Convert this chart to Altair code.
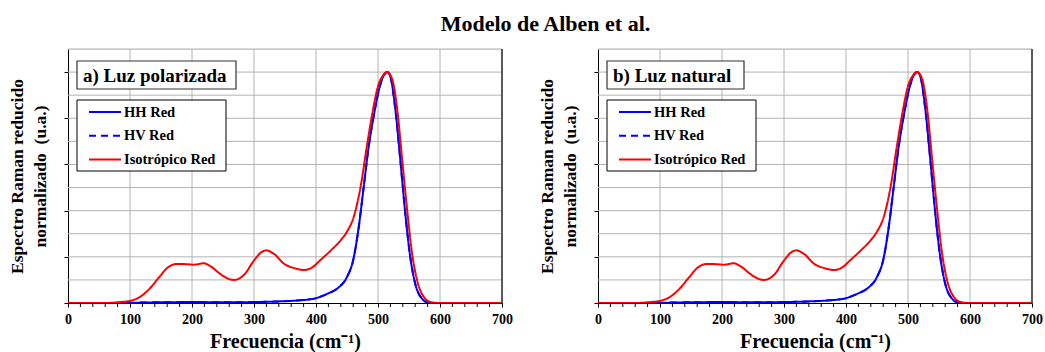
import altair as alt
import pandas as pd

# Reduced Raman spectra (normalised), Alben et al. model
series_names = ["HH Red", "HV Red", "Isotrópico Red"]
series_colors = ["#0000ff", "#0000ff", "#ff0000"]
series_dash = [[1, 0], [7, 5], [1, 0]]

# HH / HV reduced spectrum (both polarisations coincide)
hh_freq = [0, 60, 100, 120, 150, 200, 250, 300, 340, 370, 397, 419, 435,
           450, 460, 469, 477, 485, 493, 503, 509, 515, 520, 528, 536, 544,
           552, 560, 571, 582, 600, 700]
hh_val = [0.0, 0.0, 0.0, 0.002, 0.003, 0.004, 0.003, 0.004, 0.007, 0.011,
          0.019, 0.041, 0.064, 0.113, 0.186, 0.330, 0.504, 0.678, 0.809,
          0.939, 0.985, 1.0, 0.980, 0.838, 0.620, 0.388, 0.200, 0.084,
          0.019, 0.001, 0.0, 0.0]
hv_freq = list(hh_freq)
hv_val = list(hh_val)

# Isotropic reduced spectrum
iso_freq = [0, 60, 84, 100, 116, 132, 148, 162, 176, 192, 203, 219, 230,
            246, 257, 268, 284, 300, 311, 320, 332, 349, 365, 381, 392, 408,
            424, 440, 450, 461, 472, 482, 492, 500, 508, 515, 523, 531, 539,
            547, 555, 563, 574, 585, 600, 700]
iso_val = [0.0, 0.0, 0.004, 0.009, 0.026, 0.063, 0.115, 0.156, 0.169, 0.168,
           0.166, 0.172, 0.159, 0.125, 0.107, 0.100, 0.122, 0.184, 0.218,
           0.228, 0.213, 0.169, 0.151, 0.143, 0.151, 0.188, 0.228, 0.272,
           0.309, 0.374, 0.504, 0.678, 0.838, 0.939, 0.985, 1.0, 0.968,
           0.838, 0.620, 0.403, 0.214, 0.099, 0.026, 0.004, 0.0, 0.0]

panel_labels = ["a) Luz polarizada", "b) Luz natural"]
panel_box_widths = [159, 137]

x_major = list(range(0, 701, 100))
x_minor = [v for v in range(20, 700, 20) if v % 100 != 0]
y_ticks = [round(i * 0.1, 1) for i in range(12)]

FONT = "Liberation Serif"
GRID = "#b4b4b4"

frames = []
for name, fx, fy in zip(series_names, [hh_freq, hv_freq, iso_freq],
                        [hh_val, hv_val, iso_val]):
    frames.append(pd.DataFrame({"freq": fx, "valor": fy, "serie": name}))
spectra = pd.concat(frames, ignore_index=True)

x_scale = alt.Scale(domain=[0, 700], nice=False)
y_scale = alt.Scale(domain=[0, 1.1], nice=False)

PLOT_W, PLOT_H = 434, 254


def panel(label, box_w):
    x_enc = alt.X(
        "freq:Q", scale=x_scale,
        axis=alt.Axis(
            values=x_major, title="Frecuencia (cm⁻¹)", grid=False,
            labelOverlap=False, labelFlush=False,
            tickColor="black", tickSize=4, domainColor="black",
            labelFont=FONT, labelFontWeight="bold", labelFontSize=14,
            labelColor="black", labelPadding=5,
            titleFont=FONT, titleFontWeight="bold", titleFontSize=20,
            titleColor="black", titlePadding=5,
        ),
    )
    y_enc = alt.Y(
        "valor:Q", scale=y_scale,
        axis=alt.Axis(
            values=y_ticks, labels=False, grid=False,
            title=["Espectro Raman reducido", "normalizado\u00a0\u00a0(u.a.)"],
            tickColor="black", tickSize=4, domainColor="black",
            titleFont=FONT, titleFontWeight="bold", titleFontSize=17.5,
            titleColor="black", titlePadding=14, titleLineHeight=23,
        ),
    )
    # grid lines drawn as rules from the tick lists
    vgrid = alt.Chart(pd.DataFrame({"freq": x_major[1:]})).mark_rule(
        color=GRID, strokeWidth=1
    ).encode(x=alt.X("freq:Q", scale=x_scale))
    hgrid = alt.Chart(pd.DataFrame({"valor": y_ticks[1:]})).mark_rule(
        color=GRID, strokeWidth=1
    ).encode(y=alt.Y("valor:Q", scale=y_scale))
    lines = alt.Chart(spectra).mark_line(
        strokeWidth=2, interpolate="monotone", clip=True
    ).encode(
        x=x_enc,
        y=y_enc,
        color=alt.Color("serie:N", scale=alt.Scale(domain=series_names, range=series_colors), legend=None),
        strokeDash=alt.StrokeDash("serie:N", scale=alt.Scale(domain=series_names, range=series_dash), legend=None),
    )
    # minor ticks every 20 cm-1 below the frequency axis
    minor = alt.Chart(pd.DataFrame({"freq": x_minor})).mark_rule(
        color="black", strokeWidth=1
    ).encode(x=alt.X("freq:Q", scale=x_scale), y=alt.value(PLOT_H), y2=alt.value(PLOT_H + 4))
    edge = alt.Chart(pd.DataFrame({"freq": [700]})).mark_rule(
        color="#5a5a5a", strokeWidth=2
    ).encode(x=alt.X("freq:Q", scale=x_scale))

    tag = pd.DataFrame({"t": [label]})
    box = alt.Chart(tag).mark_rect(
        fill="white", stroke="#333333", strokeWidth=1.2
    ).encode(x=alt.value(9), x2=alt.value(9 + box_w),
             y=alt.value(12), y2=alt.value(40))
    txt = alt.Chart(tag).mark_text(
        align="left", baseline="middle", font=FONT, fontWeight="bold",
        fontSize=19, color="black"
    ).encode(x=alt.value(15), y=alt.value(26.5), text="t:N")

    # legend box with one line sample and label per series
    leg = [alt.Chart(tag).mark_rect(
        fill="white", stroke="black", strokeWidth=1
    ).encode(x=alt.value(9), x2=alt.value(158), y=alt.value(51), y2=alt.value(122))]
    for i, (name, col, dash) in enumerate(zip(series_names, series_colors, series_dash)):
        row = pd.DataFrame({"serie": [name]})
        yy = 63 + i * 23.8
        leg.append(alt.Chart(row).mark_rule(
            color=col, strokeWidth=2, strokeDash=dash
        ).encode(x=alt.value(21), x2=alt.value(53), y=alt.value(yy)))
        leg.append(alt.Chart(row).mark_text(
            align="left", baseline="middle", font=FONT, fontWeight="bold",
            fontSize=14.5, color="black"
        ).encode(x=alt.value(56), y=alt.value(yy + 0.5), text="serie:N"))

    return alt.layer(vgrid, hgrid, lines, minor, edge, box, txt, *leg).properties(
        width=PLOT_W, height=PLOT_H
    )


chart = alt.hconcat(
    panel(panel_labels[0], panel_box_widths[0]),
    panel(panel_labels[1], panel_box_widths[1]),
    spacing=25,
).properties(
    title=alt.TitleParams(
        "Modelo de Alben et al.", font=FONT, fontWeight="bold", fontSize=22,
        color="black", anchor="middle", offset=12, dx=20,
    ),
    padding={"left": 8, "top": 12, "right": 0, "bottom": 0},
).configure_view(stroke="black", strokeWidth=1).configure(background="white")

chart.save("out.html", embed_options={"renderer": "svg", "actions": False})
